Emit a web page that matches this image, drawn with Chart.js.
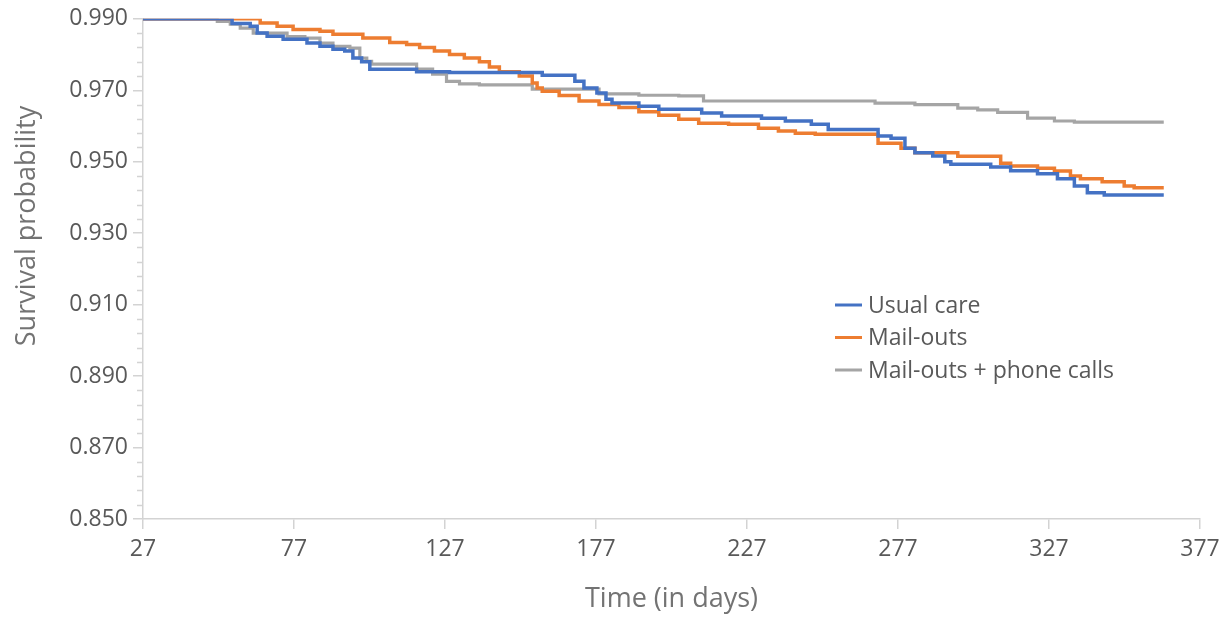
<!DOCTYPE html>
<html>
<head>
<meta charset="utf-8">
<script src="https://cdn.jsdelivr.net/npm/chart.js@4.4.1/dist/chart.umd.min.js"></script>
<style>
  html, body { margin: 0; padding: 0; background: #ffffff; }
  #wrap { width: 1230px; height: 617px; position: relative; }
</style>
</head>
<body>
<div id="wrap"><canvas id="c" width="1230" height="617"></canvas></div>
<script>
// ---------- data ----------
const seriesNames = ['Usual care', 'Mail-outs', 'Mail-outs + phone calls'];
const xTicks = [27, 77, 127, 177, 227, 277, 327, 377];
const yTicks = [0.850, 0.870, 0.890, 0.910, 0.930, 0.950, 0.970, 0.990];
const yMinorTicks = [0.854,0.858,0.862,0.866,0.874,0.878,0.882,0.886,0.894,0.898,0.902,0.906,0.914,0.918,0.922,0.926,0.934,0.938,0.942,0.946,0.954,0.958,0.962,0.966,0.974,0.978,0.982,0.986];

const usualCareT = [27, 56.5, 62.5, 64.8, 68.1, 73.4, 81.3, 85.6, 89.9, 93.8, 96.5, 99.4, 102.1, 117.6, 128.5, 159.2, 170, 173, 177.3, 180.3, 182.3, 191.2, 197.8, 212, 218.6, 231.8, 239.7, 248.3, 253.9, 270.4, 274.7, 279.3, 282.6, 288.5, 292.5, 294.5, 307.7, 314.3, 323.2, 329.8, 335.4, 339.7, 345.3, 365];
const usualCareS = [0.990, 0.9887, 0.9879, 0.9860, 0.9851, 0.9843, 0.9832, 0.9823, 0.9815, 0.9810, 0.9790, 0.9780, 0.9759, 0.9752, 0.9750, 0.9742, 0.9725, 0.9706, 0.9692, 0.9675, 0.9664, 0.9655, 0.9647, 0.9636, 0.9628, 0.9622, 0.9614, 0.9605, 0.9590, 0.9572, 0.9566, 0.9538, 0.9525, 0.9516, 0.9500, 0.9493, 0.9485, 0.9475, 0.9466, 0.9452, 0.9432, 0.9413, 0.9407, 0.9407];

const mailOutsT = [27, 65.8, 71.4, 76.7, 85.6, 89.9, 99.8, 108.7, 114.3, 118.6, 123.5, 128.5, 133.4, 138.4, 141.7, 145, 151.6, 155.9, 157.5, 159.2, 164.8, 171.4, 178, 184.6, 191.2, 197.8, 204.4, 211, 220.9, 230.8, 237.4, 243, 249.6, 270.4, 278, 282.6, 296.8, 311, 314.3, 323.2, 328.8, 334.1, 337.4, 344.6, 351.9, 355.2, 365];
const mailOutsS = [0.990, 0.9888, 0.9879, 0.9870, 0.9865, 0.9857, 0.9846, 0.9834, 0.9828, 0.9820, 0.9810, 0.9800, 0.9790, 0.9780, 0.9765, 0.9752, 0.9740, 0.9720, 0.9706, 0.9697, 0.9685, 0.9670, 0.9660, 0.9652, 0.9640, 0.9630, 0.9619, 0.9608, 0.9605, 0.9594, 0.9586, 0.9580, 0.9577, 0.9552, 0.9538, 0.9525, 0.9515, 0.9496, 0.9488, 0.9482, 0.9474, 0.9460, 0.9452, 0.9444, 0.9432, 0.9427, 0.9427];

const phoneCallsT = [27, 51.6, 55.9, 59.2, 63.5, 74.7, 80.6, 85.6, 89.9, 95.5, 98.8, 101.1, 102.7, 117.6, 122.9, 127.5, 131.8, 138.4, 155.9, 178, 191.2, 204.4, 212.6, 269.4, 282.6, 296.8, 303.4, 310, 319.9, 328.8, 335.4, 365];
const phoneCallsS = [0.990, 0.9893, 0.9885, 0.9874, 0.9860, 0.9850, 0.9846, 0.9832, 0.9823, 0.9818, 0.9790, 0.9781, 0.9773, 0.9759, 0.9745, 0.9725, 0.9718, 0.9715, 0.9703, 0.9690, 0.9686, 0.9684, 0.9670, 0.9664, 0.9660, 0.9650, 0.9645, 0.9638, 0.9622, 0.9614, 0.9611, 0.9611];

const seriesColors = ['#4472C4', '#ED7D31', '#A5A5A5'];
const seriesWidths = [3.5, 3.5, 3.2];

// ---------- build ----------
function toPoints(ts, ss) { return ts.map((t, i) => ({ x: t, y: ss[i] })); }
const allT = [usualCareT, mailOutsT, phoneCallsT];
const allS = [usualCareS, mailOutsS, phoneCallsS];

const FONT = "'Open Sans', 'Noto Sans', sans-serif";
const TICK_COLOR = '#595959';
const TITLE_COLOR = '#737373';
const AXIS_COLOR = '#d3d3d3';

const minorTickPlugin = {
  id: 'minorTicks',
  afterDraw(chart) {
    const y = chart.scales.y, ctx = chart.ctx, left = chart.chartArea.left;
    ctx.save();
    ctx.strokeStyle = AXIS_COLOR;
    ctx.lineWidth = 1.5;
    yMinorTicks.forEach(v => {
      const py = Math.round(y.getPixelForValue(v)) + 0.5;
      ctx.beginPath();
      ctx.moveTo(left - 6, py);
      ctx.lineTo(left, py);
      ctx.stroke();
    });
    ctx.restore();
  }
};

const yTitlePlugin = {
  id: 'yTitle',
  afterDraw(chart) {
    const ctx = chart.ctx;
    ctx.save();
    ctx.translate(27, 226);
    ctx.rotate(-Math.PI / 2);
    ctx.fillStyle = TITLE_COLOR;
    ctx.font = "27px " + FONT;
    ctx.textAlign = 'center';
    ctx.textBaseline = 'middle';
    ctx.fillText('Survival probability', 0, 0);
    ctx.restore();
  }
};

const legendPlugin = {
  id: 'insideLegend',
  afterDraw(chart) {
    const ctx = chart.ctx;
    ctx.save();
    ctx.font = "23px " + FONT;
    ctx.textBaseline = 'middle';
    ctx.textAlign = 'left';
    chart.data.datasets.forEach((ds, i) => {
      const yy = 305 + i * 32.5;
      ctx.strokeStyle = ds.borderColor;
      ctx.lineWidth = 3;
      ctx.beginPath();
      ctx.moveTo(835, yy);
      ctx.lineTo(862, yy);
      ctx.stroke();
      ctx.fillStyle = TICK_COLOR;
      ctx.fillText(ds.label, 868, yy + 1);
    });
    ctx.restore();
  }
};

new Chart(document.getElementById('c'), {
  type: 'line',
  data: {
    datasets: seriesNames.map((name, i) => ({
      label: name,
      data: toPoints(allT[i], allS[i]),
      borderColor: seriesColors[i],
      backgroundColor: seriesColors[i],
      borderWidth: seriesWidths[i],
      stepped: true,
      pointRadius: 0,
      fill: false
    }))
  },
  options: {
    responsive: false,
    animation: false,
    devicePixelRatio: 1,
    layout: { padding: { left: 0, right: 30, top: 17, bottom: 0 } },
    plugins: { legend: { display: false }, tooltip: { enabled: false } },
    scales: {
      x: {
        type: 'linear',
        min: 27, max: 377,
        afterBuildTicks: s => { s.ticks = xTicks.map(v => ({ value: v })); },
        afterFit: s => { s.height = 98; },
        ticks: {
          color: TICK_COLOR, font: { family: FONT, size: 23 }, padding: 7,
          maxRotation: 0, autoSkip: false,
          callback: v => String(v)
        },
        grid: { drawOnChartArea: false, drawTicks: true, tickLength: 10, color: AXIS_COLOR, lineWidth: 1.5 },
        border: { display: true, color: AXIS_COLOR, width: 1.5 },
        title: {
          display: true, text: 'Time (in days)', color: TITLE_COLOR,
          font: { family: FONT, size: 27 }, padding: { top: 0, bottom: 1 }
        }
      },
      y: {
        type: 'linear',
        min: 0.85, max: 0.99,
        afterBuildTicks: s => { s.ticks = yTicks.map(v => ({ value: v })); },
        afterFit: s => { s.width = 143; },
        ticks: {
          color: TICK_COLOR, font: { family: FONT, size: 23 }, padding: 5,
          autoSkip: false,
          callback: v => Number(v).toFixed(3)
        },
        grid: { drawOnChartArea: false, drawTicks: true, tickLength: 10, color: AXIS_COLOR, lineWidth: 1.5 },
        border: { display: true, color: AXIS_COLOR, width: 1.5 }
      }
    }
  },
  plugins: [minorTickPlugin, yTitlePlugin, legendPlugin]
});
</script>
</body>
</html>
